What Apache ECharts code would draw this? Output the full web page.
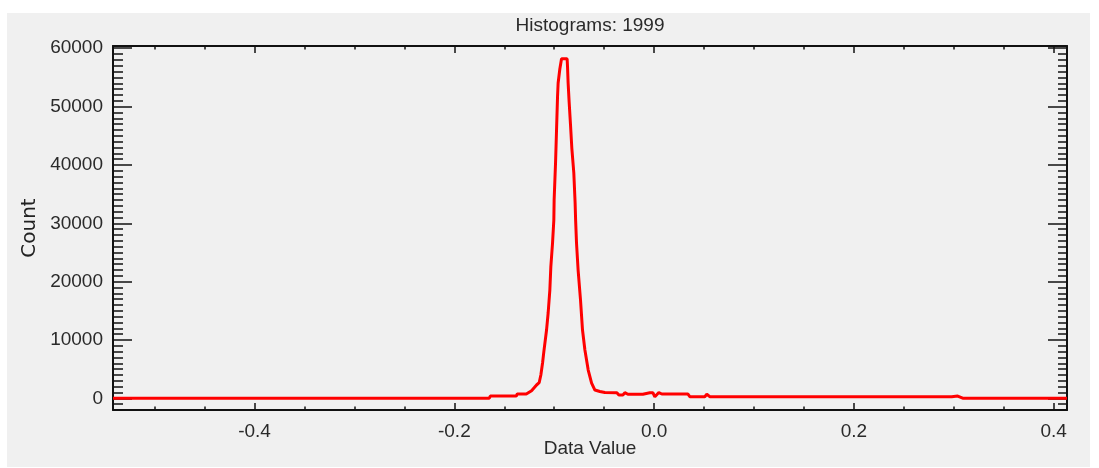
<!DOCTYPE html>
<html>
<head>
<meta charset="utf-8">
<title>Histograms: 1999</title>
<script src="https://cdn.jsdelivr.net/npm/echarts@6/dist/echarts.min.js"></script>
<style>
html, body { margin: 0; padding: 0; background: #fff; }
#panel { position: absolute; left: 7px; top: 13px; width: 1083px; height: 454px; background: #f0f0f0; }
#chart { position: absolute; left: 0; top: 0; width: 1099px; height: 468px; }
</style>
</head>
<body>
<div id="panel"></div>
<div id="chart"></div>
<script>
// histogram: bin value -> count
var dataValues = [
	-0.5417, -0.1650, -0.1640, -0.1380, -0.1370, -0.1280, -0.1270, -0.1227, -0.1177, -0.1151,
	-0.1134, -0.1117, -0.1104, -0.1077, -0.1061, -0.1044, -0.1034, -0.1017, -0.1004, -0.1001,
	-0.0987, -0.0977, -0.0967, -0.0961, -0.0944, -0.0927, -0.0871, -0.0867, -0.0861, -0.0851,
	-0.0837, -0.0824, -0.0804, -0.0791, -0.0786, -0.0777, -0.0761, -0.0737, -0.0717, -0.0693,
	-0.0660, -0.0626, -0.0593, -0.0543, -0.0493, -0.0373, -0.0353, -0.0313, -0.0293, -0.0263,
	-0.0113, -0.0093, -0.0043, -0.0013, 0.0007, 0.0047, 0.0077, 0.0337, 0.0357, 0.0507,
	0.0527, 0.0557, 0.2979, 0.2999, 0.3039, 0.3089, 0.4133
];
var counts = [
	20, 20, 390, 390, 740, 740, 1030, 1300, 2280, 2670,
	3990, 6050, 7990, 11700, 14620, 18560, 22560, 26620, 30560, 33990,
	40330, 45990, 51690, 54040, 56440, 58200, 58200, 56840, 54040, 50840,
	46840, 42900, 38620, 33480, 30560, 26620, 21990, 16850, 11700, 8280,
	4850, 2620, 1420, 1170, 990, 960, 570, 570, 960, 690,
	690, 450, 960, 960, 270, 990, 740, 740, 274, 274,
	690, 274, 274, 20, 390, 20, 20
];

var xRange = [-0.5417, 0.4133];
var yRange = [-2005, 60385];
var xLabels = [-0.4, -0.2, 0.0, 0.2, 0.4];
var yLabels = [0, 10000, 20000, 30000, 40000, 50000, 60000];
var xMinorStep = 0.05;
var yMinorStep = 1000;

function stepValues(lo, hi, step) {
	var out = [];
	var start = Math.ceil(lo / step - 1e-9);
	for (var i = start; i * step <= hi + 1e-9; i++) {
		out.push(+(i * step).toFixed(6));
	}
	return out;
}
var xMinor = stepValues(xRange[0], xRange[1], xMinorStep);
var yMinor = stepValues(yRange[0], yRange[1], yMinorStep);

var seriesData = [];
for (var i = 0; i < dataValues.length; i++) {
	seriesData.push([dataValues[i], counts[i]]);
}

var labelFont = 'Liberation Sans, Arial, sans-serif';
var axisColor = '#111';
var textColor = '#2a2a2a';

function xAxisDef(pos, major, values, len, opts) {
	var a = {
		type : 'value',
		position : pos,
		min : xRange[0],
		max : xRange[1],
		axisLine : { show : major, onZero : false, lineStyle : { color : axisColor, width : 2 } },
		axisTick : { show : true, inside : true, length : len, customValues : values,
			lineStyle : { color : axisColor, width : 1.5 } },
		axisLabel : { show : false },
		splitLine : { show : false }
	};
	return Object.assign(a, opts || {});
}
function yAxisDef(pos, major, values, len, opts) {
	var a = {
		type : 'value',
		position : pos,
		min : yRange[0],
		max : yRange[1],
		axisLine : { show : major, onZero : false, lineStyle : { color : axisColor, width : 2 } },
		axisTick : { show : true, inside : true, length : len, customValues : values,
			lineStyle : { color : axisColor, width : 1.5 } },
		axisLabel : { show : false },
		splitLine : { show : false }
	};
	return Object.assign(a, opts || {});
}

var option = {
	animation : false,
	backgroundColor : 'transparent',
	title : {
		text : 'Histograms: 1999',
		left : 590,
		textAlign : 'center',
		top : 16,
		padding : 0,
		textStyle : { fontFamily : labelFont, fontSize : 19, fontWeight : 'normal', color : textColor }
	},
	grid : {
		left : 113,
		right : 32,
		top : 46,
		bottom : 58,
		containLabel : false,
		outerBoundsMode : 'none'
	},
	xAxis : [
		xAxisDef('bottom', true, xLabels, 7, {
			axisLabel : {
				show : true,
				customValues : xLabels,
				margin : 12,
				fontFamily : labelFont,
				fontSize : 19,
				color : textColor,
				formatter : function(v) { return v.toFixed(1); }
			},
			name : 'Data Value',
			nameLocation : 'middle',
			nameGap : 29,
			nameMoveOverlap : false,
			nameTextStyle : { fontFamily : labelFont, fontSize : 19, color : textColor }
		}),
		xAxisDef('bottom', false, xMinor, 3.5),
		xAxisDef('top', true, xLabels, 7),
		xAxisDef('top', false, xMinor, 3.5)
	],
	yAxis : [
		yAxisDef('left', true, yLabels, 19, {
			axisLabel : {
				show : true,
				customValues : yLabels,
				margin : 10,
				fontFamily : labelFont,
				fontSize : 19,
				color : textColor,
				formatter : function(v) { return String(v); }
			},
			name : 'Count',
			nameLocation : 'middle',
			nameRotate : 90,
			nameGap : 73,
			nameMoveOverlap : false,
			nameTextStyle : { fontFamily : 'DejaVu Sans, sans-serif', fontSize : 20, color : '#222' }
		}),
		yAxisDef('left', false, yMinor, 10),
		yAxisDef('right', true, yLabels, 19),
		yAxisDef('right', false, yMinor, 9)
	],
	series : [
		{
			name : 'Histogram',
			type : 'line',
			xAxisIndex : 0,
			yAxisIndex : 0,
			showSymbol : false,
			lineStyle : { color : '#ff0000', width : 3 },
			data : seriesData
		}
	]
};

var chart = echarts.init(document.getElementById('chart'), null, { renderer : 'canvas' });
chart.setOption(option);
</script>
</body>
</html>
